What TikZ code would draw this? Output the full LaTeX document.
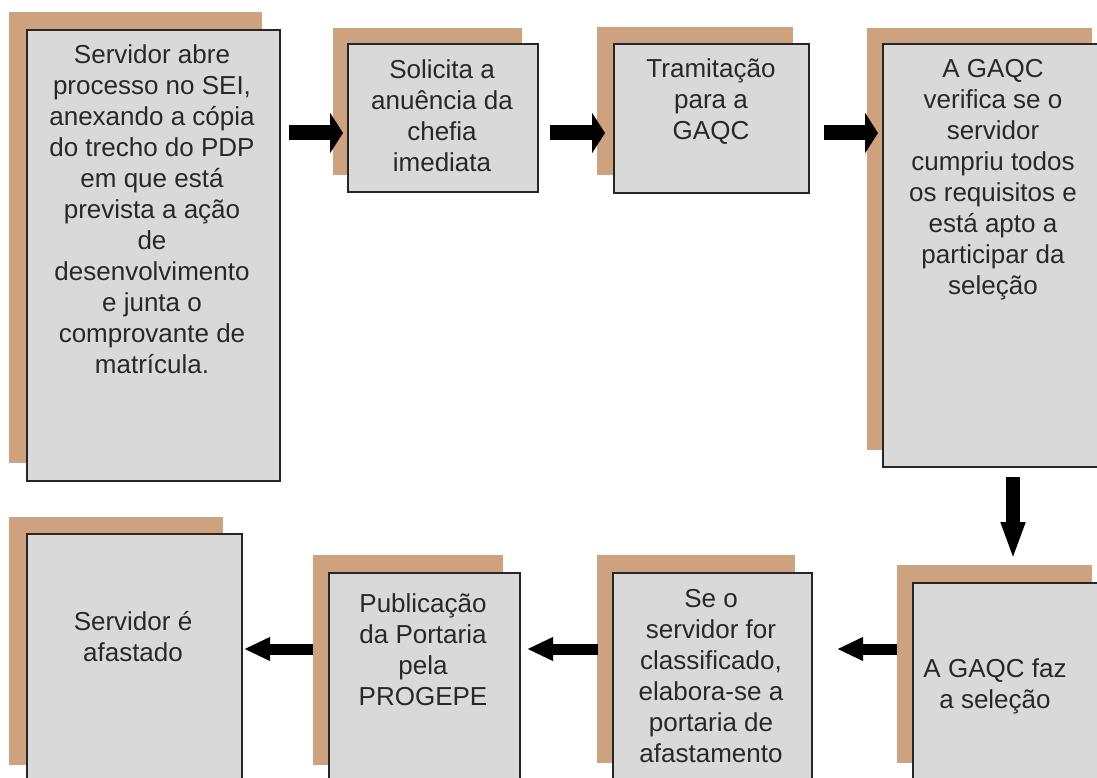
\documentclass[tikz,border=0pt]{standalone}
\usepackage{fontspec}
\setmainfont{Liberation Sans}
\usetikzlibrary{arrows.meta}
\definecolor{shadowtan}{RGB}{206,161,127}
\definecolor{boxgray}{RGB}{217,217,217}
\definecolor{txtgray}{RGB}{40,40,40}
\newcommand{\fst}{\rule{0pt}{24pt}}
\tikzset{
  shadowbox/.style={fill=shadowtan, draw=none},
  frontbox/.style={fill=boxgray, draw=black!85, line width=2pt, inner sep=0pt, anchor=north west},
  txt/.style={font=\fontsize{26}{31}\selectfont, text=txtgray, align=center, inner sep=0pt, anchor=north},
  toparr/.style={line width=15pt, -{Triangle[length=13pt,width=40pt]}},
  downarr/.style={line width=14pt, -{Triangle[length=38pt,width=22pt]}},
  botarr/.style={line width=11pt, -{Triangle[length=26pt,width=22pt]}}
}
\begin{document}
\begin{tikzpicture}[x=1pt,y=-1pt]
\useasboundingbox (0,0) rectangle (1097,778);
\fill[white] (0,0) rectangle (1097,778);
\clip (0,0) rectangle (1097,778);
% shadows
\fill[shadowbox] (9,12) rectangle (262,463);
\fill[shadowbox] (333,28) rectangle (522,175);
\fill[shadowbox] (597,27) rectangle (793,175);
\fill[shadowbox] (867,28) rectangle (1092,450);
\fill[shadowbox] (9,517) rectangle (223,765);
\fill[shadowbox] (313,555) rectangle (503,765);
\fill[shadowbox] (597,555) rectangle (795,763);
\fill[shadowbox] (897,565) rectangle (1092,763);
% front boxes
\node[frontbox, minimum width=253pt, minimum height=451pt] (b1) at (26,29) {};
\node[frontbox, minimum width=190pt, minimum height=148pt] (b2) at (347,43) {};
\node[frontbox, minimum width=195pt, minimum height=149pt] (b3) at (613,43) {};
\node[frontbox, minimum width=223pt, minimum height=423pt] (b4) at (882,43) {};
\node[frontbox, minimum width=215pt, minimum height=267pt] (ba) at (26,533) {};
\node[frontbox, minimum width=191pt, minimum height=228pt] (bb) at (328,572) {};
\node[frontbox, minimum width=199pt, minimum height=228pt] (bc) at (612,572) {};
\node[frontbox, minimum width=198pt, minimum height=218pt] (bd) at (912,582) {};
% texts
\node[txt] (t1) at (152,39) {\fst Servidor abre\\processo no SEI,\\anexando a cópia\\do trecho do PDP\\em que está\\prevista a ação\\de\\desenvolvimento\\e junta o\\comprovante de\\matrícula.};
\node[txt] (t2) at (442,54) {\fst Solicita a\\anuência da\\chefia\\imediata};
\node[txt] (t3) at (711,53) {\fst Tramitação\\para a\\GAQC};
\node[txt] (t4) at (993,53) {\fst A GAQC\\verifica se o\\servidor\\cumpriu todos\\os requisitos e\\está apto a\\participar da\\seleção};
\node[txt] (ta) at (133,606) {\fst Servidor é\\afastado};
\node[txt] (tb) at (423,588) {\fst Publicação\\da Portaria\\pela\\PROGEPE};
\node[txt] (tc) at (711,583) {\fst Se o\\servidor for\\classificado,\\elabora-se a\\portaria de\\afastamento};
\node[txt] (td) at (995,653) {\fst A GAQC faz\\a seleção};
% arrows
\coordinate (r1) at (0,133);
\coordinate (r2) at (0,649);
\coordinate (dx) at (1013,0);
\draw[toparr, shorten <=8pt, shorten >=4pt] (b1.east |- r1) -- (b2.west |- r1);
\draw[toparr, shorten <=11pt, shorten >=8pt] (b2.east |- r1) -- (b3.west |- r1);
\draw[toparr, shorten <=14pt, shorten >=4pt] (b3.east |- r1) -- (b4.west |- r1);
\draw[downarr, shorten <=9pt, shorten >=22pt] (b4.south -| dx) -- (bd.north -| dx);
\draw[botarr, shorten <=15pt, shorten >=24pt] (bd.west |- r2) -- (bc.east |- r2);
\draw[botarr, shorten <=14pt, shorten >=6pt] (bc.west |- r2) -- (bb.east |- r2);
\draw[botarr, shorten <=15pt, shorten >=1pt] (bb.west |- r2) -- (ba.east |- r2);
\end{tikzpicture}
\end{document}
